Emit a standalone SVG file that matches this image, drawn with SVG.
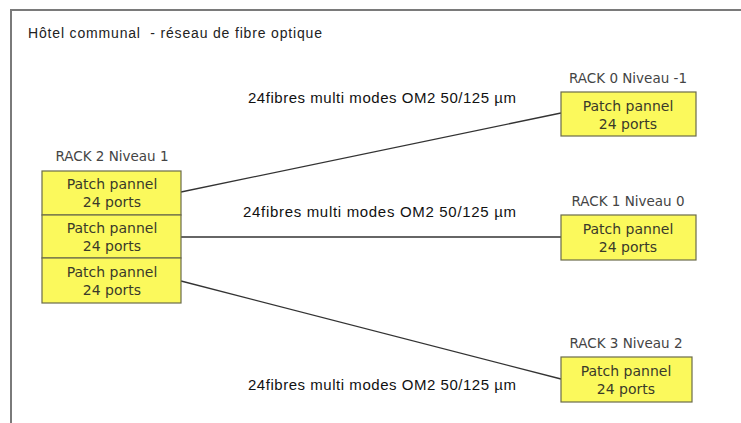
<svg xmlns="http://www.w3.org/2000/svg" width="741" height="423" viewBox="0 0 741 423">
<style>
.frame{fill:none;stroke:#7a7a7a;stroke-width:2}
.title{font-family:"Liberation Sans",Arial,sans-serif;font-size:14px;fill:#222}
.lbl{font-family:"Liberation Sans",Arial,sans-serif;font-size:15px;fill:#111}
.box{fill:#fbf95c;stroke:#6b6b4a;stroke-width:1.2}
.bt{font-family:"DejaVu Sans",sans-serif;font-size:14px;fill:#3a3a2a;text-anchor:middle}
.rk{font-family:"DejaVu Sans",sans-serif;font-size:13.5px;fill:#444;text-anchor:middle}
.conn{stroke:#333;stroke-width:1.3;fill:none}
</style>
<rect width="741" height="423" fill="#fff"/>
<rect class="frame" x="11" y="10" width="740" height="430"/>
<text class="title" x="28" y="38" textLength="294" xml:space="preserve">Hôtel communal  - réseau de fibre optique</text>
<g id="connectors">
<line class="conn" x1="181" y1="192" x2="561" y2="113"/>
<line class="conn" x1="181" y1="237" x2="561" y2="237"/>
<line class="conn" x1="181" y1="281" x2="561" y2="379"/>
<text class="lbl" x="248" y="103" textLength="268">24fibres multi modes OM2 50/125 µm</text>
<text class="lbl" x="243" y="217" textLength="273">24fibres multi modes OM2 50/125 µm</text>
<text class="lbl" x="248" y="390" textLength="268">24fibres multi modes OM2 50/125 µm</text>
</g>
<g id="rack2">
<text class="rk" x="112" y="161">RACK 2 Niveau 1</text>
<g id="rack2-p1">
<rect class="box" x="42" y="171" width="139" height="44"/>
<text class="bt" x="112" y="189">Patch pannel</text>
<text class="bt" x="112" y="207">24 ports</text>
</g>
<g id="rack2-p2">
<rect class="box" x="42" y="215" width="139" height="43"/>
<text class="bt" x="112" y="233">Patch pannel</text>
<text class="bt" x="112" y="251">24 ports</text>
</g>
<g id="rack2-p3">
<rect class="box" x="42" y="258" width="139" height="45"/>
<text class="bt" x="112" y="277">Patch pannel</text>
<text class="bt" x="112" y="295">24 ports</text>
</g>
</g>
<g id="rack0">
<text class="rk" x="628" y="83">RACK 0 Niveau -1</text>
<rect class="box" x="561" y="92" width="135" height="44"/>
<text class="bt" x="628" y="111">Patch pannel</text>
<text class="bt" x="628" y="129">24 ports</text>
</g>
<g id="rack1">
<text class="rk" x="628" y="206">RACK 1 Niveau 0</text>
<rect class="box" x="561" y="215" width="135" height="45"/>
<text class="bt" x="628" y="234">Patch pannel</text>
<text class="bt" x="628" y="252">24 ports</text>
</g>
<g id="rack3">
<text class="rk" x="626" y="348">RACK 3 Niveau 2</text>
<rect class="box" x="561" y="357" width="131" height="45"/>
<text class="bt" x="626" y="376">Patch pannel</text>
<text class="bt" x="626" y="394">24 ports</text>
</g>
</svg>
